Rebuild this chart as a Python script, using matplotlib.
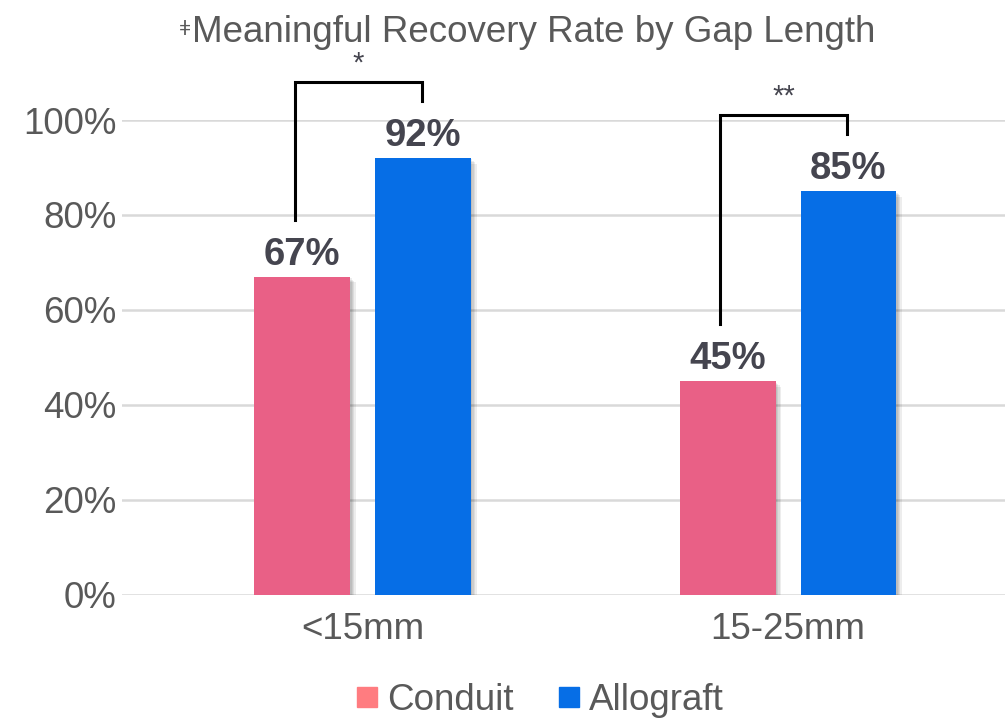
import numpy as np
import matplotlib.pyplot as plt
import matplotlib.patheffects as pe
from matplotlib.lines import Line2D

plt.rcParams['font.family'] = ['Liberation Sans', 'DejaVu Sans']

# data
categories = ['<15mm', '15-25mm']
conduit = [67, 45]
allograft = [92, 85]
significance = ['*', '**']
yticks = [0, 20, 40, 60, 80, 100]

conduit_color = '#E96086'
conduit_legend_color = '#FF7C80'
allograft_color = '#066EE6'
text_gray = '#595959'
label_gray = '#45454F'

fig = plt.figure(figsize=(10.05, 7.19), dpi=100)
ax = fig.add_axes([0.1214, 0.1725, 0.8786, 0.6606])

x = np.arange(len(categories))
barWidth = 0.225
offset = 0.142

# soft drop shadow built from a few faint offset copies
shadow = [pe.SimplePatchShadow(offset=(d, -d), shadow_rgbFace='#000000', alpha=0.07)
          for d in (1, 2, 3, 4)] + [pe.Normal()]
rects1 = ax.bar(x - offset, conduit, width=barWidth, color=conduit_color, zorder=3, path_effects=shadow)
rects2 = ax.bar(x + offset, allograft, width=barWidth, color=allograft_color, zorder=3, path_effects=shadow)


def autolabel(rects):
    """Put the value above each bar."""
    for rect in rects:
        height = rect.get_height()
        ax.annotate('{}%'.format(int(height)),
                    xy=(rect.get_x() + rect.get_width() / 2, height),
                    xytext=(0, 3), textcoords='offset points',
                    ha='center', va='bottom', fontsize=27.5, fontweight='bold',
                    color=label_gray, zorder=4, annotation_clip=False)


autolabel(rects1)
autolabel(rects2)

# significance brackets
for i in range(len(categories)):
    x1 = x[i] - offset - 0.018
    x2 = x[i] + offset - 0.003
    y1 = conduit[i] + 12
    y2 = allograft[i] + 12
    top = max(y1, y2) + 4
    ax.plot([x1, x1, x2, x2], [y1, top, top, y2], color='black', lw=2.2,
            clip_on=False, zorder=4, solid_joinstyle='miter')
    ax.text((x1 + x2) / 2, top + 1.0, significance[i], ha='center', va='bottom',
            fontsize=21, color=label_gray, clip_on=False)

ax.set_xlim(-0.566, 1.51)
ax.set_ylim(0, 100)
ax.set_yticks(yticks)
ax.set_yticklabels(['{}%'.format(v) for v in yticks])
ax.set_xticks(x)
ax.set_xticklabels(categories)
ax.tick_params(axis='y', length=0, pad=4, labelsize=26.5, labelcolor=text_gray)
ax.tick_params(axis='x', length=0, pad=12, labelsize=26.5, labelcolor=text_gray)
ax.grid(axis='y', color='#D9D9D9', lw=1.8, zorder=0)
ax.set_axisbelow(True)
for s in ax.spines.values():
    s.set_visible(False)

title = fig.text(0.531, 0.955, 'Meaningful Recovery Rate by Gap Length', ha='center', va='center',
                 fontsize=26.5, color=text_gray)
# small double-bar mark in front of the title
ax.annotate('ǂ', xy=(0, 0.86), xycoords=title, xytext=(-0.5, 0), textcoords='offset points',
            ha='right', va='top', fontsize=15, color=text_gray, annotation_clip=False)

handles = [Line2D([], [], ls='', marker='s', markersize=14.5, color=conduit_legend_color),
           Line2D([], [], ls='', marker='s', markersize=14.5, color=allograft_color)]
fig.legend(handles, ['Conduit', 'Allograft'], loc='center', bbox_to_anchor=(0.537, 0.026),
           ncol=2, frameon=False, fontsize=26.5, labelcolor=text_gray,
           handlelength=0.6, handletextpad=0.25, columnspacing=1.2, borderpad=0)

fig.savefig('out.png', dpi=100)
